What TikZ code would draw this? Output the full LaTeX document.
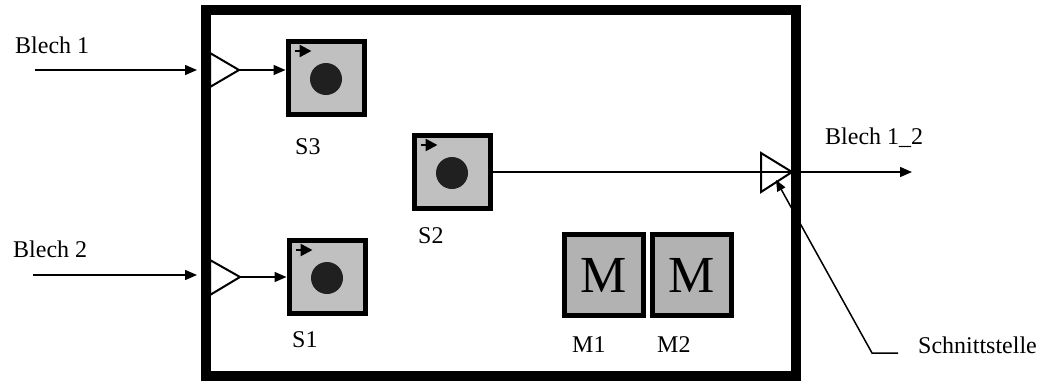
\documentclass[tikz,border=0pt]{standalone}
\usepackage{fontspec}
\setmainfont{Liberation Serif}
\usetikzlibrary{arrows.meta}
\definecolor{boxgray}{RGB}{192,192,192}
\definecolor{mgray}{RGB}{178,178,178}
\definecolor{dotblack}{RGB}{32,32,32}
\begin{document}
\begin{tikzpicture}[x=1pt,y=-1pt]
\tikzstyle{every node}+=[inner sep=0pt]
\tikzstyle{sbox}=[draw=black,fill=boxgray,line width=5pt,minimum width=76pt,minimum height=73pt]
\tikzstyle{mbox}=[draw=black,fill=mgray,line width=5pt,minimum width=79pt,minimum height=81pt,font=\fontsize{52}{52}\selectfont]
\tikzstyle{lbl}=[anchor=base west,font=\fontsize{24}{24}\selectfont]
\tikzstyle{flow}=[line width=1.5pt,-{Triangle[length=12pt,width=10pt]}]
\tikzstyle{port}=[line width=2pt,line join=miter]
\useasboundingbox (0,0) rectangle (1057,381);
% ports (under the frame)
\coordinate (p1) at (239,70);
\coordinate (p2) at (240,277);
\coordinate (p3) at (792,172);
\draw [port] (210,53) -- (p1) -- (210,87) -- cycle;
\draw [port] (210,260) -- (p2) -- (210,295) -- cycle;
% frame
\node [draw,line width=10pt,minimum width=590pt,minimum height=366pt] (frame) at (501,193) {};
% stations
\node [sbox] (S3) at (326,78) {};
\node [sbox] (S2) at (452,172) {};
\node [sbox] (S1) at (327,277) {};
\foreach \s in {S1,S2,S3} {
  \fill [dotblack] (\s.center) ++(0,1) circle (16);
  \draw [line width=2.5pt,-{Triangle[length=12pt,width=12pt]}] (\s.north west) ++(9,12) -- ++(17,0);
}
\node [mbox] (M1) at (604,275) {M};
\node [mbox] (M2) at (692,275) {M};
% labels
\node [lbl] (b1) at (15,53) {Blech 1};
\node [lbl] (b2) at (13,257) {Blech 2};
\node [lbl] (b12) at (825,144) {Blech 1\_2};
\node [lbl] (l3) at (295,154) {S3};
\node [lbl] (l2) at (418,243) {S2};
\node [lbl] (l1) at (292,347) {S1};
\node [lbl] (lm1) at (572,352) {M1};
\node [lbl] (lm2) at (657,352) {M2};
\node [lbl] (schnitt) at (918,353) {Schnittstelle};
% flows
\coordinate (in1) at (35,70);
\coordinate (in2) at (33,275);
\coordinate (out) at (912,172);
\draw [flow,shorten >=4pt] (in1) -- (in1 -| frame.west);
\draw [flow,shorten >=4pt] (in2) -- (in2 -| frame.west);
\draw [flow] (p1) -- (p1 -| S3.west);
\draw [flow] (p2) -- (p2 -| S1.west);
\draw [flow] (S2.east) -- (out);
\draw [port] (761,153) -- (p3) -- (761,192) -- cycle;
\draw [line width=1.5pt,-{Triangle[length=11pt,width=9pt]}] ([xshift=-20pt]schnitt.base west) -- ++(-26,0) -- (776,180);
\end{tikzpicture}
\end{document}
